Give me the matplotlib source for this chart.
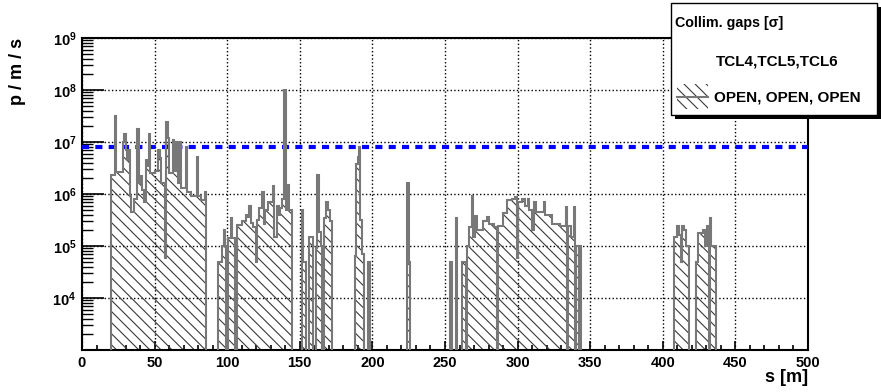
import matplotlib
matplotlib.use("Agg")
import matplotlib.pyplot as plt
from matplotlib.patches import Rectangle
from matplotlib.lines import Line2D
from matplotlib.ticker import MultipleLocator, FixedLocator, NullFormatter
import numpy as np

plt.rcParams['font.family'] = ['Liberation Sans', 'DejaVu Sans']
plt.rcParams['font.weight'] = 'bold'
plt.rcParams['mathtext.fontset'] = 'custom'
plt.rcParams['mathtext.rm'] = 'Liberation Sans:bold'
plt.rcParams['mathtext.bf'] = 'Liberation Sans:bold'
plt.rcParams['mathtext.default'] = 'bf'
plt.rcParams['hatch.linewidth'] = 0.8

# loss map as steps: each value holds from s_start[i] up to the next start
s_start = [0,
           20, 22.5, 23.5, 28, 29, 30, 31, 32, 33, 34, 36, 38, 39, 40.5, 41.5,
           43, 44, 45.5, 46, 47, 50, 52, 53.5, 54.5, 57, 58, 59, 60, 62.5,
           63.5, 65, 66, 67, 68, 71.5, 72.5, 75, 79, 80, 82, 84.5, 85.5,
           93.5, 96.5, 97.5, 98.5, 99.3, 100.3, 102.5, 103.5, 105.3, 106.8,
           110.5, 113, 114, 115.3, 116.3, 118, 119.5, 120.5, 122, 124, 125,
           126, 128, 131.5, 132.5, 134, 135.5, 136.5, 137.5, 139.3, 140.3,
           141.5, 142.5, 144.6,
           151.5, 152.5, 154.3, 156.5, 159, 161, 162, 163, 164.5, 165.5, 167,
           168.3, 169.3, 170.5, 172.5,
           188, 189, 190, 190.7, 191.7, 193, 194.2, 197.3, 198.5,
           224, 225, 226,
           253.5, 255, 257.5, 258.5, 261.5, 264.5, 265.3, 266.5, 268.5, 269.5,
           271, 272, 276, 279, 280, 284, 285.5, 286.3, 290, 292.5, 296, 298,
           299.5, 300.3, 303, 305, 307, 308, 310, 311.5, 313, 318, 319, 324,
           329, 333, 334, 334.7, 336.5, 338.5, 339.3, 340, 342, 342.5, 344,
           407.7, 409.8, 411, 412.2, 413, 414.3, 416.3, 418, 422.9, 424.2,
           427.5, 429, 430.2, 431.5, 432.3, 433.3, 436.6]
loss = [0,
        2.3e6, 3.1e7, 2.6e6, 1.0e7, 1.45e7, 7e6, 4.6e6, 7e6, 9e5, 4.5e5, 8e5,
        1.8e7, 1.6e6, 2.2e6, 1.2e6, 7e5, 4.5e6, 3.5e6, 1.4e7, 2.5e6, 2.8e6,
        7e6, 5e6, 1.6e6, 6e4, 2.4e7, 1.2e7, 2.5e6, 1.1e7, 2.8e6, 1.0e7, 1.6e6,
        1.0e7, 1.3e6, 8e6, 1.1e6, 9e5, 5.2e6, 9e5, 7.5e5, 1.1e6, 0,
        5e4, 1e5, 2e5, 1e5, 0, 1.4e5, 3.4e5, 1.4e5, 0, 2.5e5, 3e5, 4e5, 3.6e5,
        6e5, 2.8e5, 2.3e5, 5e4, 3.1e5, 5.5e5, 1.1e6, 2.6e5, 5e5, 7e5, 1.4e6,
        1.5e5, 6e5, 4e5, 5.3e5, 8e5, 1e8, 5e5, 1.5e6, 5e5, 0,
        5e5, 5e4, 0, 1.5e5, 0, 9e4, 2.3e6, 1.9e5, 1e5, 0, 3.4e5, 7e5, 5e5,
        3e5, 0,
        6.5e4, 3.7e6, 5.2e6, 8e6, 3.1e5, 7e4, 0, 5e4, 0,
        1.6e6, 5e4, 0,
        5e4, 0, 3.4e5, 0, 5e4, 0, 1e5, 2.3e5, 9e5, 1.5e5, 3.8e5, 2e5, 3e5,
        3.6e5, 2.6e5, 2.3e5, 0, 2.4e5, 4.3e5, 7.7e5, 8e5, 8.8e5, 6e4, 7e5,
        8e5, 6e5, 8e5, 5e5, 2e5, 7e5, 4.5e5, 7e5, 4e5, 2.6e5, 2.4e5, 5.6e5, 0,
        2.4e5, 1.5e5, 5.6e5, 0, 1e5, 0, 1e5, 0,
        1.5e5, 2.4e5, 1.6e5, 5e4, 2.4e5, 2e5, 1e5, 0, 5e4, 1.8e5, 2e5, 1e5,
        2.4e5, 0, 3.4e5, 1e5, 0]
s_end = 500

threshold = 8e6

x_major = [0, 50, 100, 150, 200, 250, 300, 350, 400, 450, 500]
y_decades = [1e3, 1e4, 1e5, 1e6, 1e7, 1e8, 1e9]
y_labels = ['', '$10^{4}$', '$10^{5}$', '$10^{6}$', '$10^{7}$', '$10^{8}$', '$10^{9}$']

W, H = 881, 392
fig = plt.figure(figsize=(W / 100, H / 100), dpi=100)
ax = fig.add_axes([82 / W, 1 - 350 / H, 726 / W, 312 / H])

edges = np.array(s_start + [s_end], dtype=float)
vals = np.array(loss, dtype=float)
vals_plot = np.where(vals > 0, vals, 1.0)   # empty bins drop below the axis

hatch = '\\\\\\'
ax.stairs(vals_plot, edges, baseline=1.0, fill=True, facecolor='none',
          edgecolor='#3a3a3a', linewidth=0, hatch=hatch, zorder=2)
ax.axhline(threshold, color='#0000ff', lw=3, dashes=(1.7, 1.5), zorder=3)
ax.stairs(vals_plot, edges, baseline=1.0, color='#787878', lw=1.5, zorder=4)

ax.set_yscale('log')
ax.set_xlim(0, 500)
ax.set_ylim(1e3, 1e9)

ax.xaxis.set_major_locator(FixedLocator(x_major))
ax.xaxis.set_minor_locator(MultipleLocator(10))
ax.yaxis.set_major_locator(FixedLocator(y_decades))
ax.set_yticklabels(y_labels)
minor_y = [m * 10.0 ** e for e in range(3, 9) for m in range(2, 10)]
ax.yaxis.set_minor_locator(FixedLocator(minor_y))
ax.yaxis.set_minor_formatter(NullFormatter())

ax.tick_params(axis='x', which='major', direction='in', length=6.5, width=1.2,
               labelsize=10.5, pad=4)
ax.tick_params(axis='x', which='minor', direction='in', length=3.4, width=1.2)
ax.tick_params(axis='y', which='major', direction='in', length=15.5, width=1.2,
               labelsize=10.5, pad=4)
ax.tick_params(axis='y', which='minor', direction='in', length=7.8, width=1.0)

ax.grid(True, which='major', color='black', ls=':', lw=1.0, zorder=1)
for sp in ax.spines.values():
    sp.set_linewidth(1.5)

fig.text(18 / W, 1 - 38 / H, 'p / m / s', rotation=90, ha='center', va='top',
         fontsize=13, fontweight='bold')
fig.text(808 / W, 1 - 378 / H, 's [m]', ha='right', va='center',
         fontsize=13, fontweight='bold')

# legend box with shadow
def fig_rect(x0, y0, x1, y1, **kw):
    return Rectangle((x0 / W, 1 - y1 / H), (x1 - x0) / W, (y1 - y0) / H,
                     transform=fig.transFigure, **kw)

fig.add_artist(fig_rect(675, 7, 881, 119, facecolor='black', edgecolor='none'))
fig.add_artist(fig_rect(671, 3, 877, 115, facecolor='white', edgecolor='black', lw=1))
fig.text(675 / W, 1 - 23 / H, 'Collim. gaps [σ]', ha='left', va='center',
         fontsize=10.3, fontweight='bold')
fig.text(777 / W, 1 - 62 / H, 'TCL4,TCL5,TCL6', ha='center', va='center',
         fontsize=11, fontweight='bold')
fig.add_artist(fig_rect(677, 84, 708, 109, facecolor='none', edgecolor='#3a3a3a',
                        lw=0, hatch=hatch))
fig.add_artist(Line2D([677 / W, 708 / W], [1 - 97 / H, 1 - 97 / H],
                      color='#787878', lw=1.5, transform=fig.transFigure))
fig.text(714 / W, 1 - 97 / H, 'OPEN, OPEN, OPEN', ha='left', va='center',
         fontsize=11, fontweight='bold')

fig.savefig('out.png', dpi=100)
